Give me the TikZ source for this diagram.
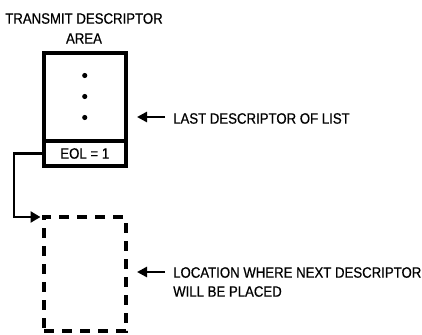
\documentclass[tikz,border=0pt]{standalone}
\usepackage{fontspec}
\setmainfont{Liberation Sans}[FakeStretch=0.88,FakeBold=0.6]
\usetikzlibrary{arrows.meta}
\begin{document}
\begin{tikzpicture}[x=1pt,y=-1pt,
  box/.style={draw, line width=4pt, minimum width=81.5pt, inner sep=0pt, outer sep=0pt},
  dashbox/.style={box, dash pattern=on 10pt off 8pt},
  lbl/.style={font=\fontsize{15}{19}\selectfont, inner sep=0pt, align=left},
  ptr/.style={line width=2.6pt, -{Triangle[length=10pt,width=10pt]}},
  link/.style={line width=2.8pt, -{Triangle[length=10pt,width=11pt]}}]
\useasboundingbox (0,0) rectangle (422,334);
% descriptor area
\node[box, minimum height=88pt] (area) at (84.75,97) {};
\node[box, minimum height=25pt, anchor=north, font=\fontsize{15}{19}\selectfont] (eol) at (area.south) {EOL~=~1};
\foreach \d in {-21,0,21} \fill (84.75,96.5+\d) circle (2.6pt);
% next location
\node[dashbox, minimum height=114pt] (next) at (84.75,274) {};
% texts
\node[lbl, align=center, anchor=north, font=\fontsize{15}{20}\selectfont] (title) at (84,13) {TRANSMIT DESCRIPTOR\\AREA};
\node[lbl, anchor=west] (last) at (173,118.5) {LAST DESCRIPTOR OF LIST};
\node[lbl, anchor=north west] (loc) at (173,267) {LOCATION WHERE NEXT DESCRIPTOR\\WILL BE PLACED};
% arrows
\draw[ptr] ([xshift=-8pt,yshift=1.5pt]last.west) -- ([xshift=11.5pt,yshift=1.5pt]area.east |- last.west);
\draw[ptr] ([xshift=-8pt,yshift=-5pt]loc.north west) -- ([xshift=11.5pt,yshift=-5pt]next.east |- loc.north west);
% link
\coordinate (bend) at ([xshift=-30pt]eol.west);
\draw[link] (eol.west) -- (bend) |- ([xshift=-3.5pt]next.north west);
\end{tikzpicture}
\end{document}
